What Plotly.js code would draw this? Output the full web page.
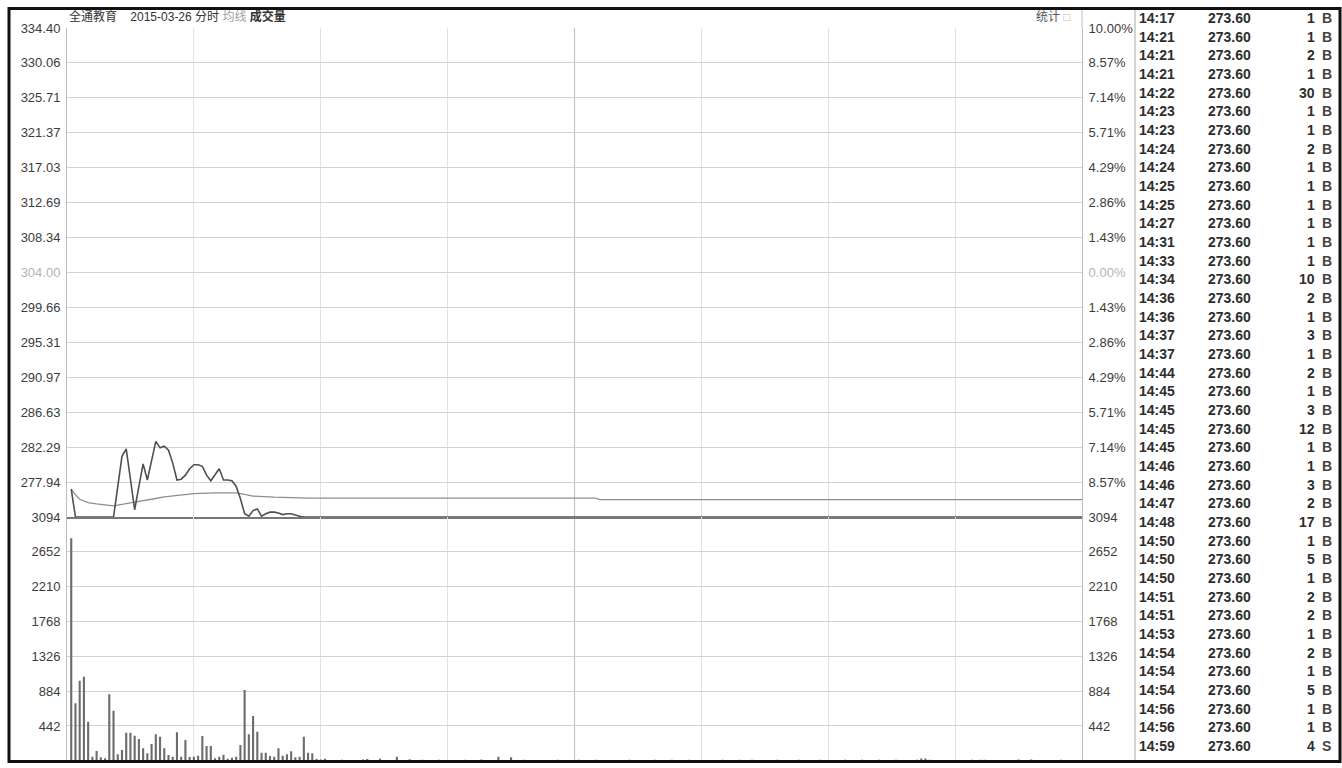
<!DOCTYPE html>
<html>
<head>
<meta charset="utf-8">
<script src="https://cdn.plot.ly/plotly-3.0.1.min.js"></script>
<style>
html,body{margin:0;padding:0;background:#fff;}
#chart{width:1342px;height:768px;}
</style>
</head>
<body>
<div id="chart"></div>
<script>
// ---------- DATA ----------
const priceTickLabels = ['277.94','282.29','286.63','290.97','295.31','299.66','304.00','308.34','312.69','317.03','321.37','325.71','330.06','334.40'];
const pctTickLabels   = ['8.57%','7.14%','5.71%','4.29%','2.86%','1.43%','0.00%','1.43%','2.86%','4.29%','5.71%','7.14%','8.57%','10.00%'];
const volTickLabels   = ['442','884','1326','1768','2210','2652','3094'];
const priceRange = [273.60, 334.40];
const volRange = [0, 3094];
const prevClose = '304.00';

// intraday price (minute index from 9:30 -> price)
const priceMinutes = [1,2,11,13,14,15,16,17,18,19,20,21,22,23,24,25,26,27,28,29,30,31,32,33,34,35,36,37,38,39,40,41,42,43,44,45,46,47,48,49,50,51,52,53,54,55,56,240];
const priceValues  = [277.06,273.60,273.60,281.14,282.07,278.20,274.50,277.40,280.20,278.20,280.70,283.00,282.20,282.40,281.90,280.30,278.20,278.30,278.80,279.60,280.10,280.10,279.90,278.80,278.10,278.80,279.60,278.20,278.20,278.10,277.40,275.90,274.00,273.70,274.40,274.60,273.70,274.00,274.20,274.20,274.10,273.90,274.00,274.00,273.80,273.70,273.60,273.60];

// average price line
const avgMinutes = [1,2,3,5,7,11,16,18,21,23,26,30,35,40,42,44,49,57,125,126,240];
const avgValues  = [277.06,276.35,275.80,275.40,275.24,274.98,275.44,275.60,275.90,276.10,276.28,276.50,276.60,276.60,276.40,276.20,276.06,275.95,275.95,275.75,275.75];

// volume per minute (lots)
const volMinutes = [1,2,3,4,5,6,7,8,9,10,11,12,13,14,15,16,17,18,19,20,21,22,23,24,25,26,27,28,29,30,
  31,32,33,34,35,36,37,38,39,40,41,42,43,44,45,46,47,48,49,50,51,52,53,54,55,56,57,58,59,60,61,
  65,66,68,70,71,73,74,78,81,82,84,86,88,92,94,96,98,100,102,105,106,108,110,114,116,118,121,123,125,
  131,133,135,139,141,143,145,147,153,155,157,159,160,162,166,168,171,173,175,178,182,184,186,188,190,
  192,194,196,197,201,202,203,204,205,207,211,213,214,216,217,219,224,225,226,227,228,230,231,232,235,237,239];
const volValues = [2823,730,1017,1067,496,52,124,44,32,844,636,82,137,357,357,319,277,159,95,213,336,306,159,74,52,362,52,264,48,52,
  65,315,188,188,32,52,78,27,40,52,200,898,336,568,370,103,103,61,52,159,65,82,120,44,52,304,103,95,22,17,27,
  12,10,10,15,22,10,27,52,19,10,12,10,12,10,12,10,15,10,52,44,10,12,10,10,12,10,12,10,12,
  10,12,10,12,10,12,10,12,10,12,10,12,10,12,10,12,10,12,10,12,10,12,10,12,10,
  12,10,12,10,14,30,30,12,10,10,10,10,14,12,14,10,10,17,10,10,17,10,10,10,12,10,10];

// tick-by-tick table
const tradeTimes  = ['14:17','14:21','14:21','14:21','14:22','14:23','14:23','14:24','14:24','14:25','14:25','14:27','14:31','14:33','14:34','14:36','14:36','14:37','14:37','14:44','14:45','14:45','14:45','14:45','14:46','14:46','14:47','14:48','14:50','14:50','14:50','14:51','14:51','14:53','14:54','14:54','14:54','14:56','14:56','14:59'];
const tradePrices = ['273.60','273.60','273.60','273.60','273.60','273.60','273.60','273.60','273.60','273.60','273.60','273.60','273.60','273.60','273.60','273.60','273.60','273.60','273.60','273.60','273.60','273.60','273.60','273.60','273.60','273.60','273.60','273.60','273.60','273.60','273.60','273.60','273.60','273.60','273.60','273.60','273.60','273.60','273.60','273.60'];
const tradeVols   = [1,1,2,1,30,1,1,2,1,1,1,1,1,1,10,2,1,3,1,2,1,3,12,1,1,3,2,17,1,5,1,2,2,1,2,1,5,1,1,4];
const tradeSides  = ['B','B','B','B','B','B','B','B','B','B','B','B','B','B','B','B','B','B','B','B','B','B','B','B','B','B','B','B','B','B','B','B','B','B','B','B','B','B','B','S'];

// ---------- LAYOUT HELPERS ----------
const W = 1342, H = 768;
const px = x => x / W;
const py = y => 1 - y / H;
const LEFT = 67, RIGHT = 1082, TOP = 28, MID = 517, BOT = 760.8;
const FONT = 'Liberation Sans, Arial, Noto Sans CJK SC, sans-serif';
const greyLbl = s => '<span style="color:#b4b4b4">' + s + '</span>';

const priceTickVals = priceTickLabels.map(Number);
const volTickVals = volTickLabels.map(Number);

const traces = [
  {x: avgMinutes, y: avgValues, type: 'scatter', mode: 'lines', xaxis: 'x', yaxis: 'y',
   line: {color: '#8e8e8e', width: 1.3}, hoverinfo: 'skip'},
  {x: priceMinutes, y: priceValues, type: 'scatter', mode: 'lines', xaxis: 'x', yaxis: 'y',
   line: {color: '#505050', width: 1.6}, hoverinfo: 'skip'},
  {x: volMinutes, y: volValues, type: 'bar', xaxis: 'x2', yaxis: 'y3', width: 0.5,
   marker: {color: '#6c6c6c', line: {width: 0}}, hoverinfo: 'skip'},
  // carriers for the right-hand axes (same data, invisible)
  {x: priceMinutes, y: priceValues, type: 'scatter', mode: 'lines', xaxis: 'x', yaxis: 'y2',
   line: {color: 'rgba(0,0,0,0)', width: 0}, hoverinfo: 'skip'},
  {x: volMinutes, y: volValues, type: 'scatter', mode: 'lines', xaxis: 'x2', yaxis: 'y4',
   line: {color: 'rgba(0,0,0,0)', width: 0}, hoverinfo: 'skip'}
];

const tickFont = {family: FONT, size: 13, color: '#3c3c3c'};
const xCommon = {domain: [px(LEFT), px(RIGHT)], range: [0, 240], tickvals: [30,60,90,150,180,210],
  showticklabels: false, ticks: '', gridcolor: '#e0e0e0', gridwidth: 1, zeroline: false, fixedrange: true};

const layout = {
  width: W, height: H,
  margin: {l: 0, r: 0, t: 0, b: 0},
  paper_bgcolor: '#ffffff', plot_bgcolor: '#ffffff',
  showlegend: false,
  xaxis: Object.assign({}, xCommon, {anchor: 'y', showline: true, linecolor: '#777777', linewidth: 2}),
  xaxis2: Object.assign({}, xCommon, {anchor: 'y3', matches: 'x', showline: false}),
  yaxis: {domain: [py(MID), py(TOP)], range: priceRange, anchor: 'x', side: 'left',
    tickvals: priceTickVals, ticktext: priceTickLabels.map(s => s === prevClose ? greyLbl(s) : s),
    tickfont: tickFont, ticks: '', gridcolor: '#d2d2d2', gridwidth: 1, zeroline: false,
    showline: true, linecolor: '#bdbdbd', linewidth: 1, ticklabelstandoff: 3},
  yaxis2: {overlaying: 'y', side: 'right', anchor: 'x', range: priceRange,
    tickvals: priceTickVals, ticktext: pctTickLabels.map(s => s === '0.00%' ? greyLbl(s) : s),
    tickfont: tickFont, ticks: '', showgrid: false, zeroline: false,
    showline: true, linecolor: '#bdbdbd', linewidth: 1, ticklabelstandoff: 3},
  yaxis3: {domain: [py(BOT), py(MID)], range: volRange, anchor: 'x2', side: 'left',
    tickvals: volTickVals, ticktext: volTickLabels, tickfont: tickFont, ticks: '',
    gridcolor: '#d2d2d2', gridwidth: 1, zeroline: false,
    showline: true, linecolor: '#bdbdbd', linewidth: 1, ticklabelstandoff: 3},
  yaxis4: {overlaying: 'y3', side: 'right', anchor: 'x2', range: volRange,
    tickvals: volTickVals, ticktext: volTickLabels, tickfont: tickFont, ticks: '',
    showgrid: false, zeroline: false, showline: true, linecolor: '#bdbdbd', linewidth: 1, ticklabelstandoff: 3},
  shapes: [
    {type: 'line', xref: 'x', x0: 120, x1: 120, yref: 'paper', y0: py(BOT), y1: py(TOP),
     line: {color: '#c4c4c4', width: 1.2}, layer: 'below'},
    {type: 'line', xref: 'paper', x0: px(RIGHT), x1: px(RIGHT), yref: 'paper', y0: py(TOP), y1: py(9),
     line: {color: '#bdbdbd', width: 1}},
    {type: 'line', xref: 'paper', x0: px(1135), x1: px(1135), yref: 'paper', y0: py(9), y1: py(761),
     line: {color: '#a8a8a8', width: 1}},
    {type: 'rect', xref: 'paper', yref: 'paper', x0: px(9), x1: px(1340), y0: py(761.5), y1: py(8.5),
     line: {color: '#111111', width: 3}, fillcolor: 'rgba(0,0,0,0)'}
  ],
  annotations: []
};

// header texts
layout.annotations.push({
  xref: 'paper', yref: 'paper', x: px(67), y: py(17), xanchor: 'left', yanchor: 'middle', showarrow: false,
  text: '全通教育\u00a0\u00a0\u00a0\u00a02015-03-26 分时 <span style="color:#a0a0a0">均线</span> <b>成交量</b>',
  font: {family: FONT, size: 12, color: '#333333'}
});
layout.annotations.push({
  xref: 'paper', yref: 'paper', x: px(1034), y: py(17), xanchor: 'left', yanchor: 'middle', showarrow: false,
  text: '统计 <span style="color:#c0c0c0">□</span>',
  font: {family: FONT, size: 12, color: '#555555'}
});

// trade table
const rowH = 18.67, row0 = 18;
const tblFont = {family: FONT, size: 14, color: '#2e2e2e', weight: 'bold'};
tradeTimes.forEach((t, k) => {
  const yy = py(row0 + k * rowH);
  const base = {xref: 'paper', yref: 'paper', y: yy, yanchor: 'middle', showarrow: false, font: tblFont};
  layout.annotations.push(Object.assign({}, base, {x: px(1137), xanchor: 'left', text: t}));
  layout.annotations.push(Object.assign({}, base, {x: px(1206), xanchor: 'left', text: tradePrices[k]}));
  layout.annotations.push(Object.assign({}, base, {x: px(1317), xanchor: 'right', text: String(tradeVols[k])}));
  layout.annotations.push(Object.assign({}, base, {x: px(1320), xanchor: 'left', text: tradeSides[k],
    font: Object.assign({}, tblFont, {color: '#444444'})}));
});

Plotly.newPlot('chart', traces, layout, {staticPlot: true, displayModeBar: false});
</script>
</body>
</html>
